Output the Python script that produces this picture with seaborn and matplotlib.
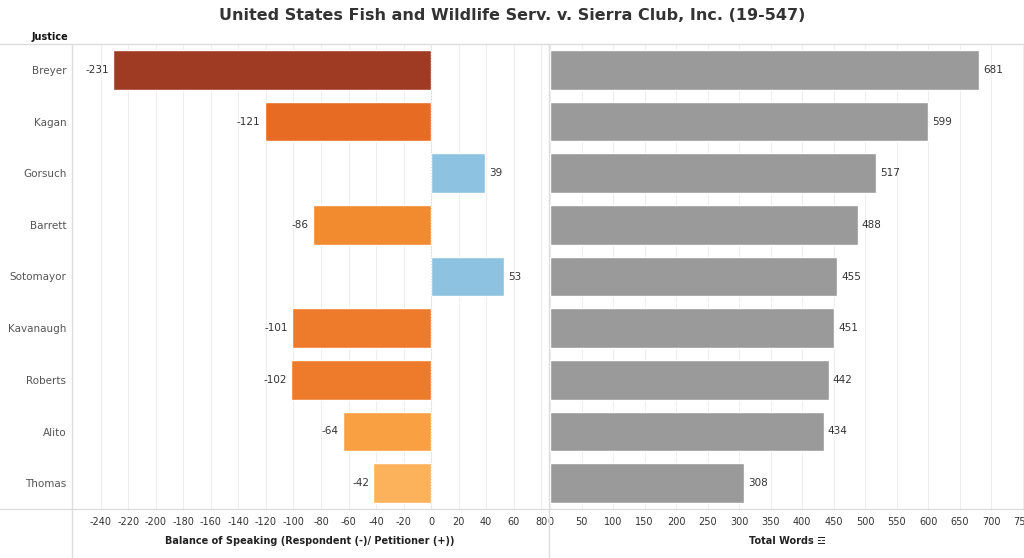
import pandas as pd
import numpy as np
import matplotlib.pyplot as plt
import seaborn as sns

# Dados
justices = ['Breyer', 'Kagan', 'Gorsuch', 'Barrett', 'Sotomayor',
            'Kavanaugh', 'Roberts', 'Alito', 'Thomas']
balance = [-231, -121, 39, -86, 53, -101, -102, -64, -42]
total_words = [681, 599, 517, 488, 455, 451, 442, 434, 308]
bar_colors = ['#9E3B22', '#E86B24', '#8DC3E1', '#F28A30', '#8DC3E1',
              '#EE7A2B', '#EE7A2B', '#F9A043', '#FBB25A']
left_ticks = list(range(-240, 81, 20))
right_ticks = list(range(0, 751, 50))

df = pd.DataFrame({'Justice': justices, 'Balance': balance, 'Words': total_words})

sns.set_style('white')
plt.rcParams['font.family'] = ['DejaVu Sans']
plt.rcParams['axes.unicode_minus'] = False

fig = plt.figure(figsize=(10.24, 5.58), dpi=100)
ax1 = fig.add_axes([72 / 1024, 1 - 509 / 558, 476 / 1024, 465 / 558])
ax2 = fig.add_axes([550 / 1024, 1 - 509 / 558, 474 / 1024, 465 / 558])

sns.barplot(data=df, y='Justice', x='Balance', hue='Justice', palette=bar_colors,
            legend=False, width=0.77, ax=ax1, saturation=1)
sns.barplot(data=df, y='Justice', x='Words', color='#9A9A9A',
            width=0.77, ax=ax2, saturation=1)

for c in ax1.containers:
    ax1.bar_label(c, fmt='%d', padding=3, fontsize=7.5, color='#333333')
for c in ax2.containers:
    ax2.bar_label(c, fmt='%d', padding=3, fontsize=7.5, color='#333333')

ax1.set_xlim(-261, 85)
ax2.set_xlim(0, 752)
ax1.set_xticks(left_ticks)
ax2.set_xticks(right_ticks)

for ax in (ax1, ax2):
    ax.set_ylim(len(justices) - 0.5, -0.5)
    ax.grid(axis='x', color='#EEEEEE', linewidth=0.8)
    ax.set_axisbelow(True)
    ax.tick_params(axis='x', labelsize=7, colors='#333333', length=0, pad=6)
    ax.set_ylabel('')
    for s in ax.spines.values():
        s.set_visible(False)

ax1.axvline(0, color='#DDDDDD', linewidth=0.8, linestyle=':')
ax1.tick_params(axis='y', labelsize=7.5, colors='#555555', length=0, pad=4)
ax1.set_yticks(range(len(justices)))
ax1.set_yticklabels(justices)
ax2.set_yticks([])

ax1.set_xlabel('Balance of Speaking (Respondent (-)/ Petitioner (+))',
               fontsize=7, fontweight='bold', color='#222222', labelpad=6)
ax2.set_xlabel('Total Words \u2632', fontsize=7, fontweight='bold',
               color='#222222', labelpad=6)

# linhas de moldura
fig.add_artist(plt.Line2D([0, 1], [1 - 44 / 558] * 2, color='#DDDDDD', lw=1))
fig.add_artist(plt.Line2D([0, 1], [1 - 509 / 558] * 2, color='#DDDDDD', lw=1))
for xp in (72, 549):
    fig.add_artist(plt.Line2D([xp / 1024] * 2, [0, 1 - 44 / 558],
                              color='#DDDDDD', lw=1))

fig.text(68 / 1024, 1 - 37 / 558, 'Justice', fontsize=7, fontweight='bold',
         color='#111111', va='center', ha='right')
fig.suptitle('United States Fish and Wildlife Serv. v. Sierra Club, Inc. (19-547)',
             x=0.5, y=1 - 15 / 558, va='center', fontsize=11.5, fontweight='bold',
             color='#333333')

plt.savefig('out.png', dpi=100)
